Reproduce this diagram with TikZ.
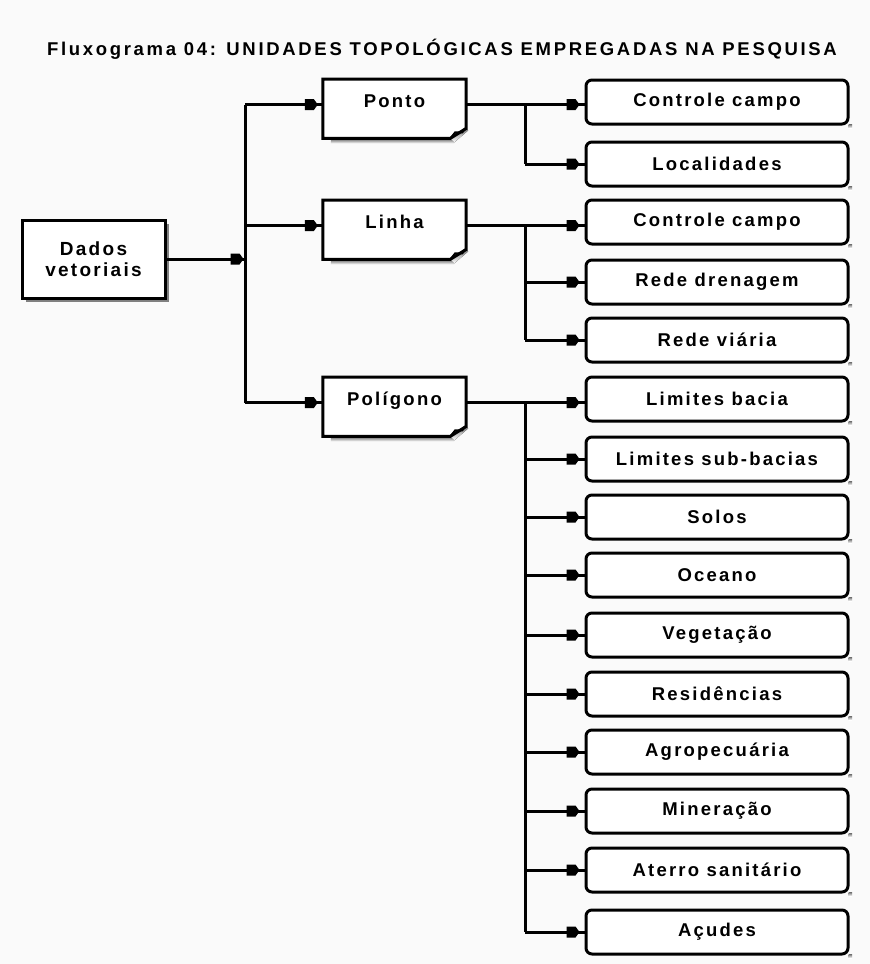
\documentclass[tikz,border=0pt]{standalone}
\usepackage{fontspec}
\setmainfont{Liberation Sans}
\newfontfamily\tracked[LetterSpace=12]{Liberation Sans Bold}
\newfontfamily\trackedwide[LetterSpace=14.5]{Liberation Sans Bold}
\usetikzlibrary{arrows.meta,decorations.markings,shadows}
\definecolor{paper}{RGB}{250,250,250}
\definecolor{shade}{RGB}{128,128,128}
\begin{document}
\begin{tikzpicture}[x=1pt,y=-1pt,
  wire/.style={line width=3pt},
  tipat/.style={postaction={decorate,decoration={markings,
      mark=at position -#1 with {\fill (-13pt,-5.5pt) -- (-4pt,-5.5pt) -- (0pt,0pt) -- (-4pt,5.5pt) -- (-13pt,5.5pt) -- cycle;}}}},
  labelfont/.style={font=\tracked\fontsize{18.5}{22}\selectfont},
  rootbox/.style={draw,line width=3pt,fill=white,minimum width=143pt,minimum height=78pt,
      inner sep=0pt,align=center,font=\tracked\fontsize{19}{21}\selectfont,
      drop shadow={shadow xshift=4pt,shadow yshift=-4pt,fill=shade,opacity=1}},
  kindbox/.style={labelfont,minimum width=143pt,inner sep=0pt,text height=28pt,text depth=31pt,anchor=north},
  leaf/.style={draw,line width=3pt,rounded corners=6pt,fill=white,minimum width=262pt,
      minimum height=44pt,inner sep=0pt,labelfont},
]
\fill[paper] (0,0) rectangle (870,964);
\useasboundingbox (0,0) rectangle (870,964);

% title
\node[font=\trackedwide\fontsize{18.5}{22}\selectfont,anchor=base] (title) at (442,55) {Fluxograma 04: UNIDADES TOPOLÓGICAS EMPREGADAS NA PESQUISA};

% root
\node[rootbox] (dados) at (93.5,259) {Dados\\vetoriais};

% geometry types (document-shaped boxes)
\node[kindbox] (ponto) at (394.5,79) {Ponto};
\node[kindbox] (linha) at (394.5,200) {Linha};
\node[kindbox] (poligono) at (394.5,377) {Polígono};
\foreach \n in {ponto,linha,poligono}{
  \fill[shade] ([xshift=8pt,yshift=-1pt]\n.south west) rectangle ([xshift=-12pt,yshift=-5pt]\n.south east);
  \fill[shade] ([xshift=-16pt]\n.south east) -- ([xshift=0pt,yshift=10pt]\n.south east) -- ([xshift=2pt,yshift=8pt]\n.south east) -- ([xshift=-12pt,yshift=-4pt]\n.south east) -- cycle;
  \draw[line width=3pt,fill=white] (\n.north west) -- (\n.north east) -- ([yshift=10pt]\n.south east)
      -- ([xshift=-16pt]\n.south east) -- (\n.south west) -- cycle;
  \draw[line width=2pt] ([xshift=-15pt,yshift=1pt]\n.south east) -- ([xshift=-11pt,yshift=6pt]\n.south east)
      -- ([xshift=-4pt,yshift=6pt]\n.south east) -- ([xshift=-1pt,yshift=10pt]\n.south east);
}
\node[kindbox] at (394.5,79) {Ponto};
\node[kindbox] at (394.5,200) {Linha};
\node[kindbox] at (394.5,377) {Polígono};

% leaves
\node[leaf] (p1) at (717,102) {Controle campo};
\node[leaf] (p2) at (717,164) {Localidades};
\node[leaf] (l1) at (717,222) {Controle campo};
\node[leaf] (l2) at (717,282) {Rede drenagem};
\node[leaf] (l3) at (717,340) {Rede viária};
\node[leaf] (g1) at (717,399) {Limites bacia};
\node[leaf] (g2) at (717,459) {Limites sub-bacias};
\node[leaf] (g3) at (717,517) {Solos};
\node[leaf] (g4) at (717,575) {Oceano};
\node[leaf] (g5) at (717,635) {Vegetação};
\node[leaf] (g6) at (717,694) {Residências};
\node[leaf] (g7) at (717,752) {Agropecuária};
\node[leaf] (g8) at (717,811) {Mineração};
\node[leaf] (g9) at (717,870) {Aterro sanitário};
\node[leaf] (g10) at (717,932) {Açudes};
\foreach \n in {p1,p2,l1,l2,l3,g1,g2,g3,g4,g5,g6,g7,g8,g9,g10}{
  \fill[shade] ([xshift=-1pt,yshift=1pt]\n.south east) rectangle ([xshift=2.5pt,yshift=-2.5pt]\n.south east);
}

% trunk and branch columns
\coordinate (trunk) at (245,0);
\coordinate (brx) at (525,0);

\draw[wire,tipat=1.5pt] (dados.east) -- (trunk |- dados.east);
\draw[wire] (trunk |- ponto.mid west) -- (trunk |- poligono.mid west);
\foreach \n in {ponto,linha,poligono}{
  \draw[wire,tipat=5pt] (trunk |- \n.mid west) -- (\n.mid west);
}

% ponto
\draw[wire,tipat=5pt] (ponto.mid east) -- (ponto.mid east -| p1.west);
\draw[wire] (brx |- ponto.mid east) -- (brx |- p2.west);
\draw[wire,tipat=5pt] (brx |- p2.west) -- (p2.west);

% linha
\draw[wire,tipat=5pt] (linha.mid east) -- (linha.mid east -| l1.west);
\draw[wire] (brx |- linha.mid east) -- (brx |- l3.west);
\foreach \n in {l2,l3}{
  \draw[wire,tipat=5pt] (brx |- \n.west) -- (\n.west);
}

% poligono
\draw[wire,tipat=5pt] (poligono.mid east) -- (poligono.mid east -| g1.west);
\draw[wire] (brx |- poligono.mid east) -- (brx |- g10.west);
\foreach \n in {g2,g3,g4,g5,g6,g7,g8,g9,g10}{
  \draw[wire,tipat=5pt] (brx |- \n.west) -- (\n.west);
}
\end{tikzpicture}
\end{document}
